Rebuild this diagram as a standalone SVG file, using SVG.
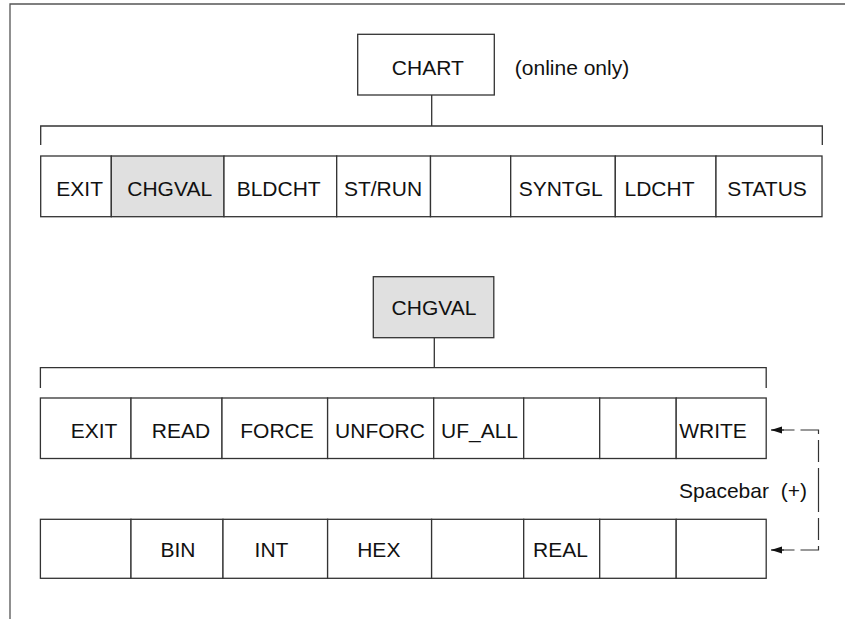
<svg xmlns="http://www.w3.org/2000/svg" width="845" height="619" viewBox="0 0 845 619">
<style>
  .box { fill: #ffffff; stroke: #333333; stroke-width: 1.3; }
  .hl { fill: #e0e0e0; stroke: #333333; stroke-width: 1.3; }
  .t { font-family: "Liberation Sans", Arial, sans-serif; font-size: 21px; fill: #111111; text-anchor: middle; }
  .line { fill: none; stroke: #333333; stroke-width: 1.3; }
  .dash { fill: none; stroke: #333333; stroke-width: 1.2; stroke-dasharray: 22 6; }
  .frame { fill: none; stroke: #555555; stroke-width: 1.3; }
</style>
<defs>
  <marker id="arr" markerWidth="12" markerHeight="8" refX="11" refY="4" orient="auto" markerUnits="userSpaceOnUse">
    <path d="M0,0.5 L11,4 L0,7.5 z" fill="#111111"/>
  </marker>
</defs>
<rect width="845" height="619" fill="#ffffff"/>
<path class="frame" d="M10,619 V4 H845"/>

<g id="connectors">
  <path class="line" d="M431.7,95 V126"/>
  <path class="line" d="M40.7,145 V126 H822.3 V145"/>
  <path class="line" d="M434.3,337.7 V367.7"/>
  <path class="line" d="M40.4,388 V367.7 H766.2 V388"/>
  <path class="dash" d="M818.5,490 V430 H771"/>
  <path class="line" d="M784,430 H771" marker-end="url(#arr)"/>
  <path class="dash" d="M818.5,490 V550 H771"/>
  <path class="line" d="M784,550 H771" marker-end="url(#arr)"/>
  <text class="t" x="743" y="498" style="white-space:pre">Spacebar  (+)</text>
</g>

<g id="chart">
  <rect class="box" x="357.7" y="34.3" width="136.6" height="60.7"/>
  <text class="t" x="427.8" y="74.5">CHART</text>
</g>
<text class="t" x="572" y="75" id="online-only">(online only)</text>

<g id="row1">
  <g id="r1-exit"><rect class="box" x="40.7" y="156" width="70.6" height="60.7"/><text class="t" x="79.7" y="195.5">EXIT</text></g>
  <g id="r1-chgval"><rect class="hl" x="111.3" y="156" width="112.7" height="60.7"/><text class="t" x="169.7" y="195.5">CHGVAL</text></g>
  <g id="r1-bldcht"><rect class="box" x="224" y="156" width="112.7" height="60.7"/><text class="t" x="278.7" y="195.5">BLDCHT</text></g>
  <g id="r1-strun"><rect class="box" x="336.7" y="156" width="93.8" height="60.7"/><text class="t" x="383" y="195.5">ST/RUN</text></g>
  <g id="r1-empty"><rect class="box" x="430.5" y="156" width="80.2" height="60.7"/></g>
  <g id="r1-syntgl"><rect class="box" x="510.7" y="156" width="104.6" height="60.7"/><text class="t" x="560.7" y="195.5">SYNTGL</text></g>
  <g id="r1-ldcht"><rect class="box" x="615.3" y="156" width="100.7" height="60.7"/><text class="t" x="659.5" y="195.5">LDCHT</text></g>
  <g id="r1-status"><rect class="box" x="716" y="156" width="106" height="60.7"/><text class="t" x="767" y="195.5">STATUS</text></g>
</g>

<g id="chgval">
  <rect class="hl" x="373.3" y="276.7" width="120.5" height="61"/>
  <text class="t" x="434" y="315">CHGVAL</text>
</g>

<g id="row2">
  <g id="r2-exit"><rect class="box" x="40.4" y="398" width="90.6" height="60.5"/><text class="t" x="94" y="437.5">EXIT</text></g>
  <g id="r2-read"><rect class="box" x="131" y="398" width="91" height="60.5"/><text class="t" x="181" y="437.5">READ</text></g>
  <g id="r2-force"><rect class="box" x="222" y="398" width="105.6" height="60.5"/><text class="t" x="277" y="437.5">FORCE</text></g>
  <g id="r2-unforc"><rect class="box" x="327.6" y="398" width="106.1" height="60.5"/><text class="t" x="380" y="437.5">UNFORC</text></g>
  <g id="r2-ufall"><rect class="box" x="433.7" y="398" width="90" height="60.5"/><text class="t" x="479.5" y="437.5">UF_ALL</text></g>
  <g id="r2-empty1"><rect class="box" x="523.7" y="398" width="76" height="60.5"/></g>
  <g id="r2-empty2"><rect class="box" x="599.7" y="398" width="76.5" height="60.5"/></g>
  <g id="r2-write"><rect class="box" x="676.2" y="398" width="90" height="60.5"/><text class="t" x="713" y="437.5">WRITE</text></g>
</g>

<g id="row3">
  <g id="r3-empty1"><rect class="box" x="40.4" y="519.3" width="90.6" height="59"/></g>
  <g id="r3-bin"><rect class="box" x="131" y="519.3" width="92" height="59"/><text class="t" x="178" y="556.5">BIN</text></g>
  <g id="r3-int"><rect class="box" x="223" y="519.3" width="104.6" height="59"/><text class="t" x="271.5" y="556.5">INT</text></g>
  <g id="r3-hex"><rect class="box" x="327.6" y="519.3" width="104" height="59"/><text class="t" x="378.8" y="556.5">HEX</text></g>
  <g id="r3-empty2"><rect class="box" x="431.6" y="519.3" width="92.1" height="59"/></g>
  <g id="r3-real"><rect class="box" x="523.7" y="519.3" width="76" height="59"/><text class="t" x="560.5" y="556.5">REAL</text></g>
  <g id="r3-empty3"><rect class="box" x="599.7" y="519.3" width="76.5" height="59"/></g>
  <g id="r3-empty4"><rect class="box" x="676.2" y="519.3" width="90" height="59"/></g>
</g>
</svg>
